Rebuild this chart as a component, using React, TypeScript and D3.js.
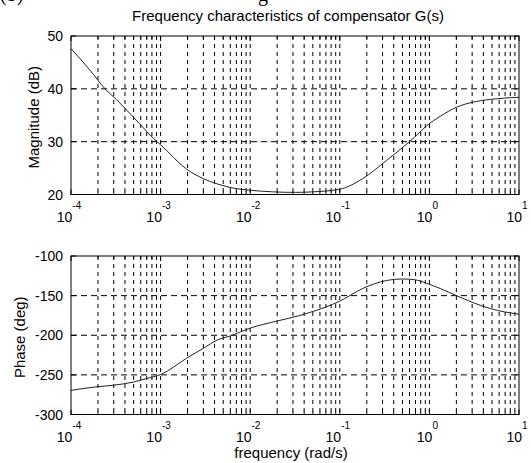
import React from "react";
import * as d3 from "d3";

// ---- data ----
const magFreq = [1e-4, 1.6e-4, 2.4e-4, 3.2e-4, 5e-4, 9.1e-4, 1e-3, 1.95e-3, 3e-3, 4.3e-3, 6.5e-3, 1e-2, 3.2e-2, 5e-2, 0.1, 0.18, 0.33, 0.51, 0.69, 0.93, 1.32, 2.0, 3.1, 4.8, 10];
const magDb = [47.6, 43.7, 40.0, 38.0, 34.6, 30.0, 29.4, 24.8, 23.0, 22.0, 21.2, 20.8, 20.4, 20.5, 21.0, 23.0, 26.4, 29.0, 30.9, 33.0, 34.8, 36.5, 37.5, 38.0, 38.4];

const phaseFreq = [1e-4, 1.95e-4, 3e-4, 5e-4, 7e-4, 1e-3, 1.95e-3, 3e-3, 4.3e-3, 6e-3, 1e-2, 2e-2, 3.6e-2, 4.7e-2, 0.1, 0.18, 0.33, 0.51, 0.69, 0.93, 1.32, 2.0, 3.1, 4.8, 10];
const phaseDeg = [-269.5, -265, -263, -259, -254.6, -249.6, -229, -216.5, -206, -200.8, -191, -182, -175, -171, -157, -141, -131, -129, -130, -134.5, -141, -150, -159, -166.4, -173.5];

const decadeExps = [-4, -3, -2, -1, 0, 1];
const magTicks = [20, 30, 40, 50];
const phaseTicks = [-300, -250, -200, -150, -100];

const title = "Frequency characteristics of compensator G(s)";
const xLabel = "frequency (rad/s)";
const magLabel = "Magnitude (dB)";
const phaseLabel = "Phase (deg)";

// ---- layout ----
const W = 531;
const H = 463;
const X0 = 71;
const X1 = 519;
const FONT = "'Liberation Sans', Arial, sans-serif";

const x = d3.scaleLog().domain([1e-4, 10]).range([X0, X1]);

const minorFreqs: number[] = [];
for (let e = -4; e < 1; e++) {
  for (let m = 1; m <= 9; m++) minorFreqs.push(m * Math.pow(10, e));
}
minorFreqs.push(10);

function Panel({ top, bottom, domain, ticks, freq, vals, label, labelX }: any) {
  const y = d3.scaleLinear().domain(domain).range([bottom, top]);
  const line = d3
    .line<number>()
    .x((_, i) => x(freq[i]))
    .y((v) => y(v))
    .curve(d3.curveMonotoneX);
  const innerY = ticks.filter((t: number) => t > domain[0] && t < domain[1]);
  return (
    <g>
      {/* vertical grid */}
      {minorFreqs
        .filter((f) => f > 1.0001e-4 && f < 9.999)
        .map((f, i) => (
          <line key={"vg" + i} x1={x(f)} x2={x(f)} y1={top} y2={bottom} stroke="#000" strokeWidth={1} strokeDasharray="4,4" />
        ))}
      {/* horizontal grid */}
      {innerY.map((t: number) => (
        <line key={"hg" + t} x1={X0} x2={X1} y1={y(t)} y2={y(t)} stroke="#000" strokeWidth={1} strokeDasharray="6,4" />
      ))}
      {/* x ticks top & bottom */}
      {minorFreqs.map((f, i) => {
        const isMajor = Math.abs(Math.log10(f) - Math.round(Math.log10(f))) < 1e-6;
        const len = isMajor ? 5 : 3;
        return (
          <g key={"xt" + i}>
            <line x1={x(f)} x2={x(f)} y1={bottom} y2={bottom - len} stroke="#000" />
            <line x1={x(f)} x2={x(f)} y1={top} y2={top + len} stroke="#000" />
          </g>
        );
      })}
      {/* y ticks left & right */}
      {ticks.map((t: number) => (
        <g key={"yt" + t}>
          <line x1={X0} x2={X0 + 5} y1={y(t)} y2={y(t)} stroke="#000" />
          <line x1={X1} x2={X1 - 5} y1={y(t)} y2={y(t)} stroke="#000" />
          <text x={63} y={y(t)} dy="0.36em" textAnchor="end" fontSize={14} fontFamily={FONT} fill="#000">
            {t}
          </text>
        </g>
      ))}
      {/* x tick labels */}
      {decadeExps.map((e) => (
        <text key={"xl" + e} x={x(Math.pow(10, e)) - 2} y={bottom + 27} textAnchor="middle" fontSize={14} fontFamily={FONT} fill="#000">
          <tspan>10</tspan>
          <tspan dy={-13} fontSize={10}>{e}</tspan>
        </text>
      ))}
      {/* curve */}
      <path d={line(vals) || ""} fill="none" stroke="#222" strokeWidth={1} />
      {/* frame */}
      <rect x={X0} y={top} width={X1 - X0} height={bottom - top} fill="none" stroke="#000" strokeWidth={1} />
      {/* y label */}
      <text
        transform={`translate(${labelX},${(top + bottom) / 2 + 2}) rotate(-90)`}
        textAnchor="middle"
        fontSize={15}
        fontFamily={FONT}
        fill="#000"
      >
        {label}
      </text>
    </g>
  );
}

export default function App() {
  return (
    <svg
      width={W}
      height={H}
      viewBox={`0 0 ${W} ${H}`}
      style={{ position: "absolute", left: 0, top: 0, background: "#fff", display: "block" }}
    >
      <rect x={0} y={0} width={W} height={H} fill="#fff" />
      {/* clipped remnants of surrounding document text */}
      <text x={0} y={1} fontSize={20} fontFamily="'Liberation Serif', serif" fill="#000">(b)</text>
      <text x={258} y={1} fontSize={20} fontFamily="'Liberation Serif', serif" fill="#000">g</text>
      <text x={288} y={21} textAnchor="middle" fontSize={15} fontFamily={FONT} fill="#000">
        {title}
      </text>
      <Panel top={36} bottom={194.5} domain={[20, 50]} ticks={magTicks} freq={magFreq} vals={magDb} label={magLabel} labelX={39} />
      <Panel top={256} bottom={414.5} domain={[-300, -100]} ticks={phaseTicks} freq={phaseFreq} vals={phaseDeg} label={phaseLabel} labelX={25} />
      <text x={291} y={458} textAnchor="middle" fontSize={15} fontFamily={FONT} fill="#000">
        {xLabel}
      </text>
    </svg>
  );
}
